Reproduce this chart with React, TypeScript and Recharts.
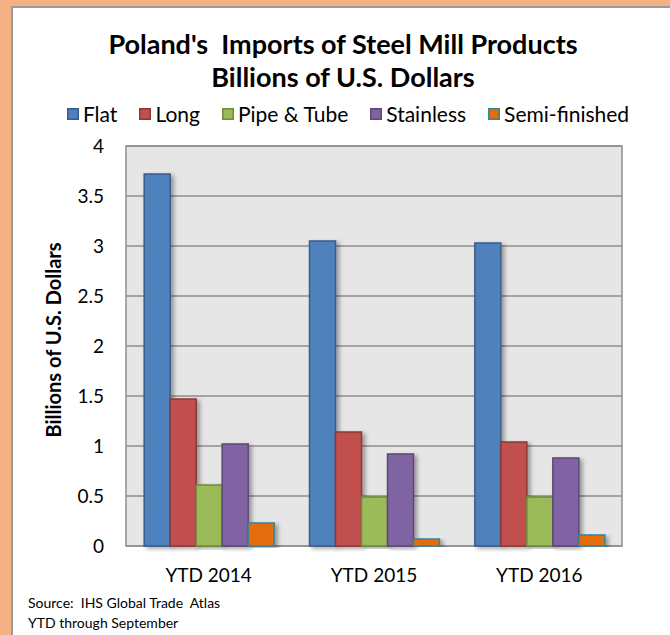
import React from 'react';
import { BarChart, Bar, XAxis, YAxis, CartesianGrid, Legend, ReferenceArea, Rectangle } from 'recharts';

const categories = ['YTD 2014', 'YTD 2015', 'YTD 2016'];
const flatValues = [3.72, 3.05, 3.03];
const longValues = [1.47, 1.14, 1.04];
const pipeValues = [0.61, 0.49, 0.49];
const stainlessValues = [1.02, 0.92, 0.88];
const semiValues = [0.23, 0.07, 0.11];
const yTicks = [0, 0.5, 1, 1.5, 2, 2.5, 3, 3.5, 4];
const seriesNames = ['Flat', 'Long', 'Pipe & Tube', 'Stainless', 'Semi-finished'];
const seriesFills = ['#4F81BD', '#C0504D', '#9BBB59', '#8064A2', '#E46C0A'];
const seriesStrokes = ['#385D8A', '#8C3836', '#71893F', '#5C4776', '#31859C'];
const titleLine1 = "Poland's  Imports of Steel Mill Products";
const titleLine2 = 'Billions of U.S. Dollars';
const yAxisTitle = 'Billions of U.S. Dollars';
const sourceLine1 = 'Source:  IHS Global Trade  Atlas';
const sourceLine2 = 'YTD through September';

const seriesValues = [flatValues, longValues, pipeValues, stainlessValues, semiValues];
const data = categories.map((c, i) => {
  const row: Record<string, string | number> = { category: c };
  seriesNames.forEach((n, s) => {
    row[n] = seriesValues[s][i];
  });
  return row;
});

const FONT = 'Lato, "Open Sans", sans-serif';

const ShadowBar = (props: any) => {
  const { x, y, width, height, fill, stroke } = props;
  if (height == null || height <= 0) return null;
  return (
    <g>
      <Rectangle x={x} y={y} width={width} height={height} fill={fill} stroke={stroke} strokeWidth={1.5} style={{ filter: 'url(#barShadow)' }} />
    </g>
  );
};

const renderLegend = () => (
  <div style={{ display: 'flex', justifyContent: 'center', alignItems: 'center', fontFamily: FONT, fontSize: 21, lineHeight: '24px', color: '#000', whiteSpace: 'pre' }}>
    {seriesNames.map((n, i) => (
      <div key={n} style={{ display: 'flex', alignItems: 'center', marginRight: i < seriesNames.length - 1 ? 22 : 0 }}>
        <svg width={12} height={12} style={{ marginRight: 4 }}>
          <rect x={0.75} y={0.75} width={10.5} height={10.5} fill={seriesFills[i]} stroke={seriesStrokes[i]} strokeWidth={1.5} />
        </svg>
        <span>{n}</span>
      </div>
    ))}
  </div>
);

export default function App() {
  return (
    <div style={{ position: 'absolute', left: 0, top: 0, width: 670, height: 635, background: '#F4B183', overflow: 'hidden', fontFamily: FONT }}>
      <svg width={0} height={0} style={{ position: 'absolute' }}>
        <defs>
          <filter id="barShadow" x="-20%" y="-5%" width="160%" height="110%">
            <feDropShadow dx={3} dy={2} stdDeviation={2} floodColor="#000" floodOpacity={0.35} />
          </filter>
        </defs>
      </svg>
      <div style={{ position: 'absolute', left: 11, top: 6, width: 670, height: 640, background: '#fff', borderLeft: '2px solid #9A9A9A', borderTop: '2px solid #9A9A9A' }} />
      <div style={{ position: 'absolute', left: 0, top: 0 }}>
        <BarChart width={670} height={635} data={data} margin={{ top: 122, right: 48, bottom: 59, left: 66 }} barCategoryGap="11%" barGap={0}>
          <CartesianGrid vertical={false} fill="#E6E6E6" stroke="#8E8E8E" strokeWidth={1.5} />
          <Legend verticalAlign="top" content={renderLegend} wrapperStyle={{ top: 102, left: 0, width: 696 }} />
          <XAxis dataKey="category" tickLine={false} axisLine={false} tickMargin={17} tick={{ fill: '#000', fontSize: 19, fontFamily: FONT }} />
          <YAxis width={60} domain={[0, 4]} ticks={yTicks} tickLine={false} axisLine={false} tickMargin={16} tick={{ fill: '#000', fontSize: 19, fontFamily: FONT }} interval={0} />
          {seriesNames.map((n, i) => (
            <Bar key={n} dataKey={n} fill={seriesFills[i]} stroke={seriesStrokes[i]} isAnimationActive={false} shape={<ShadowBar />} />
          ))}
          <ReferenceArea y1={0} y2={4} fill="none" stroke="#8E8E8E" strokeWidth={1.5} fillOpacity={0} />
        </BarChart>
      </div>
      <div style={{ position: 'absolute', left: 0, width: 686, top: 27, textAlign: 'center', fontWeight: 700, fontSize: 27, lineHeight: '33px', whiteSpace: 'pre', color: '#000' }}>
        <div>{titleLine1}</div>
        <div>{titleLine2}</div>
      </div>
      <div style={{ position: 'absolute', left: 53, top: 340, width: 0, height: 0 }}>
        <div style={{ position: 'absolute', transform: 'translate(-50%, -50%) rotate(-90deg)', whiteSpace: 'pre', fontWeight: 700, fontSize: 20, color: '#000' }}>{yAxisTitle}</div>
      </div>
      <div style={{ position: 'absolute', left: 28, top: 593, fontSize: 14, lineHeight: '20px', whiteSpace: 'pre', color: '#000' }}>
        <div>{sourceLine1}</div>
        <div>{sourceLine2}</div>
      </div>
    </div>
  );
}
